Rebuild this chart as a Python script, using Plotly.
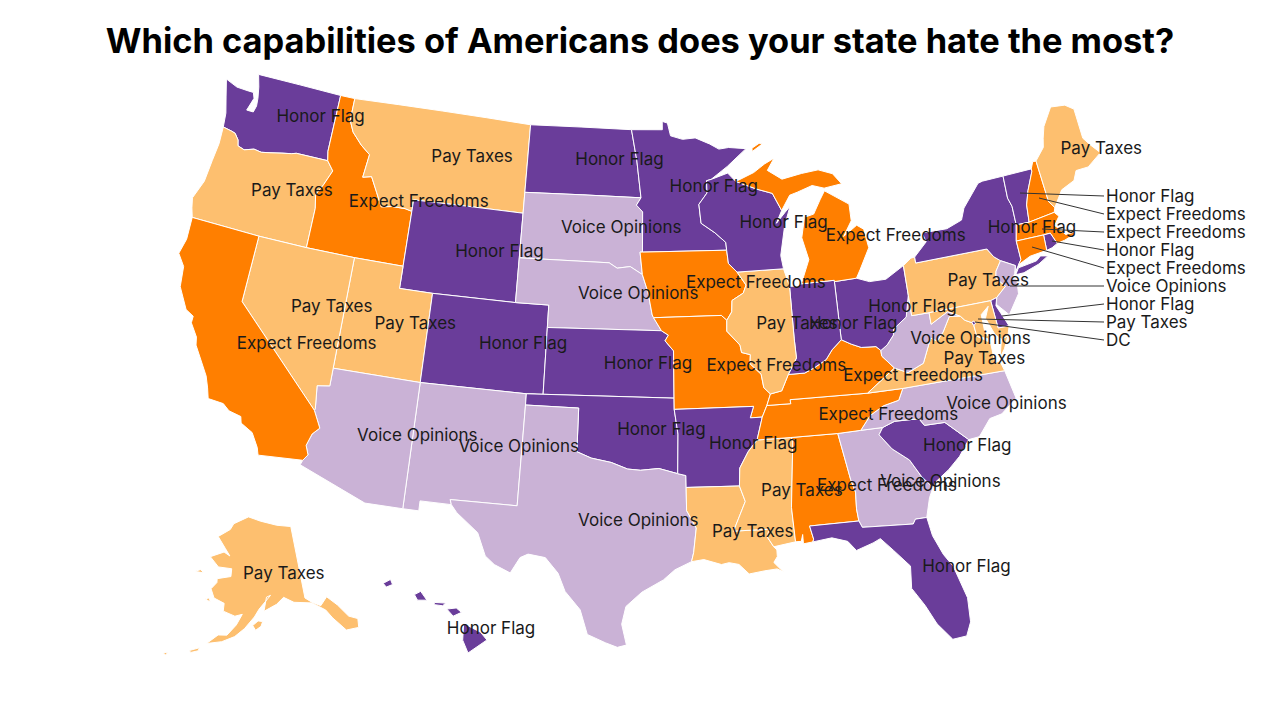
import plotly.graph_objects as go

# state outlines as lon,lat rings
WA = [[(-124.73,48.38),(-123.9,48.17),(-123.1,48.15),(-122.75,48.15),(-122.6,47.9),(-122.85,47.3),(-122.4,47.3),(-122.3,47.6),(-122.35,47.95),(-122.5,48.45),(-122.75,49.0),(-117.03,49.0),(-117.04,46.42),(-116.92,46.0),(-119.0,46.0),(-119.3,45.93),(-119.9,45.85),(-120.65,45.73),(-121.2,45.65),(-121.7,45.7),(-122.3,45.55),(-122.75,45.65),(-122.85,45.9),(-123.15,46.15),(-123.4,46.2),(-124.0,46.27),(-124.1,46.9),(-124.4,47.6)]]
OR = [[(-124.0,46.27),(-123.4,46.2),(-123.15,46.15),(-122.85,45.9),(-122.75,45.65),(-122.3,45.55),(-121.7,45.7),(-121.2,45.65),(-120.65,45.73),(-119.9,45.85),(-119.3,45.93),(-119.0,46.0),(-116.92,46.0),(-116.46,45.6),(-116.85,44.9),(-117.2,44.4),(-117.03,43.8),(-117.03,42.0),(-120.0,42.0),(-124.21,42.0),(-124.4,42.4),(-124.55,42.84),(-124.15,43.7),(-124.05,44.7),(-123.95,45.5)]]
ID = [[(-117.03,49.0),(-116.05,49.0),(-116.05,48.0),(-115.7,47.5),(-115.0,47.0),(-114.35,46.65),(-114.5,45.6),(-113.95,45.7),(-113.45,45.05),(-113.0,44.45),(-112.3,44.55),(-111.5,44.55),(-111.05,44.48),(-111.05,42.0),(-114.05,42.0),(-117.03,42.0),(-117.03,43.8),(-117.2,44.4),(-116.85,44.9),(-116.46,45.6),(-116.92,46.0),(-117.04,46.42)]]
MT = [[(-116.05,49.0),(-104.05,49.0),(-104.05,45.94),(-104.05,45.0),(-111.05,45.0),(-111.05,44.48),(-111.5,44.55),(-112.3,44.55),(-113.0,44.45),(-113.45,45.05),(-113.95,45.7),(-114.5,45.6),(-114.35,46.65),(-115.0,47.0),(-115.7,47.5),(-116.05,48.0)]]
WY = [[(-111.05,45.0),(-104.05,45.0),(-104.05,43.0),(-104.05,41.0),(-109.05,41.0),(-111.05,41.0),(-111.05,42.0),(-111.05,44.48)]]
UT = [[(-114.05,42.0),(-111.05,42.0),(-111.05,41.0),(-109.05,41.0),(-109.05,37.0),(-114.05,37.0),(-114.05,36.2)]]
CO = [[(-109.05,41.0),(-104.05,41.0),(-102.05,41.0),(-102.05,40.0),(-102.05,37.0),(-103.0,37.0),(-109.05,37.0)]]
NM = [[(-109.05,37.0),(-103.0,37.0),(-103.0,36.5),(-103.05,32.0),(-106.62,32.0),(-106.53,31.78),(-108.2,31.78),(-108.2,31.33),(-109.05,31.33)]]
AZ = [[(-114.05,37.0),(-109.05,37.0),(-109.05,31.33),(-111.07,31.33),(-114.81,32.5),(-114.72,32.72),(-114.5,33.0),(-114.7,33.4),(-114.5,33.95),(-114.15,34.27),(-114.63,35.0),(-114.6,35.1),(-114.75,36.1),(-114.05,36.2)]]
NV = [[(-120.0,42.0),(-117.03,42.0),(-114.05,42.0),(-114.05,37.0),(-114.05,36.2),(-114.75,36.1),(-114.6,35.1),(-114.63,35.0),(-120.0,39.0)]]
CA = [[(-124.21,42.0),(-120.0,42.0),(-120.0,39.0),(-114.63,35.0),(-114.15,34.27),(-114.5,33.95),(-114.7,33.4),(-114.5,33.0),(-114.72,32.72),(-117.12,32.53),(-117.25,32.85),(-117.7,33.45),(-118.4,33.75),(-118.5,34.03),(-119.2,34.15),(-119.6,34.4),(-120.47,34.45),(-120.65,34.9),(-120.9,35.4),(-121.9,36.6),(-122.0,36.95),(-122.5,37.5),(-122.5,37.8),(-123.0,38.0),(-123.7,38.9),(-123.85,39.8),(-124.35,40.3),(-124.15,41.0)]]
ND = [[(-104.05,49.0),(-97.23,49.0),(-96.85,47.6),(-96.56,45.93),(-104.05,45.94)]]
SD = [[(-104.05,45.94),(-96.56,45.93),(-96.85,45.6),(-96.45,45.3),(-96.45,43.5),(-96.6,43.5),(-96.45,42.5),(-97.2,42.85),(-98.0,42.77),(-98.5,43.0),(-104.05,43.0)]]
NE = [[(-104.05,43.0),(-98.5,43.0),(-98.0,42.77),(-97.2,42.85),(-96.45,42.5),(-96.1,41.7),(-95.85,40.7),(-95.77,40.58),(-95.31,40.0),(-102.05,40.0),(-102.05,41.0),(-104.05,41.0)]]
KS = [[(-102.05,40.0),(-95.31,40.0),(-94.9,39.8),(-95.1,39.55),(-94.61,39.1),(-94.62,37.0),(-103.0,37.0),(-102.05,37.0)]]
OK = [[(-103.0,37.0),(-94.62,37.0),(-94.62,36.5),(-94.43,35.4),(-94.48,33.64),(-95.5,33.88),(-96.5,33.8),(-97.2,33.85),(-98.1,34.13),(-99.2,34.3),(-100.0,34.56),(-100.0,36.5),(-103.0,36.5)]]
TX = [[(-103.0,36.5),(-100.0,36.5),(-100.0,34.56),(-99.2,34.3),(-98.1,34.13),(-97.2,33.85),(-96.5,33.8),(-95.5,33.88),(-94.48,33.64),(-94.04,33.55),(-94.04,33.02),(-94.04,31.99),(-93.55,31.2),(-93.72,30.1),(-93.84,29.7),(-94.7,29.35),(-95.3,28.9),(-96.4,28.35),(-97.2,27.7),(-97.4,26.9),(-97.15,25.96),(-97.6,25.85),(-98.2,26.05),(-99.1,26.4),(-99.5,27.5),(-100.3,28.3),(-100.7,29.1),(-101.4,29.77),(-102.3,29.88),(-102.7,29.7),(-103.15,28.98),(-104.0,29.3),(-104.5,29.65),(-105.0,30.65),(-106.2,31.45),(-106.53,31.78),(-106.62,32.0),(-103.05,32.0)]]
MN = [[(-97.23,49.0),(-95.15,49.0),(-95.15,49.38),(-94.8,49.3),(-94.6,48.72),(-93.8,48.55),(-92.95,48.6),(-92.0,48.3),(-91.4,48.05),(-90.75,48.1),(-89.6,48.0),(-90.9,47.25),(-92.0,46.7),(-92.3,46.65),(-92.3,46.1),(-92.85,45.6),(-92.75,44.75),(-91.9,44.3),(-91.25,43.85),(-91.22,43.5),(-96.45,43.5),(-96.45,45.3),(-96.85,45.6),(-96.56,45.93),(-96.85,47.6)]]
IA = [[(-96.6,43.5),(-96.45,43.5),(-91.22,43.5),(-91.15,42.9),(-90.65,42.5),(-90.15,41.9),(-90.35,41.55),(-91.05,41.25),(-91.1,40.75),(-91.42,40.38),(-91.73,40.61),(-95.77,40.58),(-95.85,40.7),(-96.1,41.7),(-96.45,42.5)]]
MO = [[(-95.77,40.58),(-91.73,40.61),(-91.42,40.38),(-91.45,39.9),(-90.72,39.25),(-90.65,38.92),(-90.15,38.8),(-90.2,38.4),(-89.6,37.9),(-89.5,37.3),(-89.15,37.0),(-89.4,36.5),(-89.7,36.0),(-90.37,36.0),(-90.15,36.5),(-94.62,36.5),(-94.62,37.0),(-94.61,39.1),(-95.1,39.55),(-94.9,39.8),(-95.31,40.0)]]
AR = [[(-94.62,36.5),(-90.15,36.5),(-90.37,36.0),(-89.7,36.0),(-90.07,35.0),(-90.6,34.5),(-91.1,33.8),(-91.17,33.0),(-94.04,33.02),(-94.04,33.55),(-94.48,33.64),(-94.43,35.4)]]
LA = [[(-94.04,33.02),(-91.17,33.0),(-90.9,32.3),(-91.6,31.0),(-89.73,31.0),(-89.85,30.65),(-89.55,30.2),(-89.4,30.05),(-89.4,29.75),(-89.6,29.5),(-89.15,29.05),(-89.45,29.2),(-90.1,29.15),(-90.9,29.05),(-91.4,29.5),(-91.9,29.6),(-92.3,29.53),(-93.2,29.78),(-93.84,29.7),(-93.72,30.1),(-93.55,31.2),(-94.04,31.99)]]
MS = [[(-90.07,35.0),(-88.2,35.0),(-88.1,34.9),(-88.47,31.9),(-88.4,30.35),(-89.55,30.2),(-89.85,30.65),(-89.73,31.0),(-91.6,31.0),(-90.9,32.3),(-91.17,33.0),(-91.1,33.8),(-90.6,34.5)]]
AL = [[(-88.2,35.0),(-85.6,34.98),(-85.18,32.87),(-85.0,32.3),(-85.05,31.55),(-85.0,31.0),(-87.6,31.0),(-87.45,30.4),(-87.5,30.28),(-88.0,30.23),(-88.0,30.65),(-88.1,30.35),(-88.4,30.35),(-88.47,31.9),(-88.1,34.9)]]
GA = [[(-85.6,34.98),(-84.32,35.0),(-83.1,35.0),(-83.35,34.7),(-82.75,34.0),(-81.9,33.4),(-81.4,32.6),(-80.88,32.03),(-81.15,31.6),(-81.45,30.75),(-82.05,30.75),(-82.2,30.55),(-84.86,30.7),(-85.0,31.0),(-85.05,31.55),(-85.0,32.3),(-85.18,32.87)]]
FL = [[(-87.6,31.0),(-85.0,31.0),(-84.86,30.7),(-82.2,30.55),(-82.05,30.75),(-81.45,30.75),(-81.3,29.9),(-80.9,29.0),(-80.5,28.4),(-80.05,26.9),(-80.1,25.8),(-80.4,25.2),(-81.1,25.15),(-81.75,25.95),(-82.2,26.85),(-82.75,27.7),(-82.65,28.7),(-83.4,29.5),(-84.0,30.1),(-84.4,29.95),(-85.3,29.7),(-85.7,30.15),(-86.5,30.38),(-87.5,30.28),(-87.45,30.4)]]
SC = [[(-83.1,35.0),(-82.4,35.2),(-81.05,35.15),(-80.8,34.82),(-79.67,34.8),(-78.55,33.86),(-79.2,33.2),(-79.9,32.7),(-80.7,32.25),(-80.88,32.03),(-81.4,32.6),(-81.9,33.4),(-82.75,34.0),(-83.35,34.7)]]
NC = [[(-84.32,35.0),(-83.1,35.0),(-82.4,35.2),(-81.05,35.15),(-80.8,34.82),(-79.67,34.8),(-78.55,33.86),(-77.95,33.9),(-77.2,34.6),(-76.5,34.7),(-75.55,35.25),(-75.85,36.55),(-81.68,36.59),(-82.0,36.1),(-82.9,35.95),(-83.7,35.6)]]
TN = [[(-90.07,35.0),(-89.7,36.0),(-89.4,36.5),(-88.05,36.5),(-88.07,36.68),(-83.68,36.6),(-81.68,36.59),(-82.0,36.1),(-82.9,35.95),(-83.7,35.6),(-84.32,35.0),(-85.6,34.98),(-88.2,35.0)]]
KY = [[(-89.4,36.5),(-89.15,37.0),(-88.5,37.1),(-88.05,37.8),(-87.1,37.8),(-86.5,38.0),(-85.8,38.3),(-85.4,38.7),(-84.8,39.1),(-84.25,38.85),(-83.7,38.65),(-82.85,38.6),(-82.6,38.4),(-82.6,38.15),(-81.97,37.54),(-83.68,36.6),(-88.07,36.68),(-88.05,36.5)]]
VA = [[(-83.68,36.6),(-81.97,37.54),(-81.25,37.25),(-80.3,37.55),(-79.65,38.6),(-79.3,38.42),(-78.87,38.77),(-78.35,39.4),(-77.72,39.32),(-77.5,39.1),(-77.12,38.93),(-77.05,38.8),(-77.0,38.3),(-76.3,37.9),(-76.3,37.0),(-76.0,37.0),(-75.85,36.55),(-81.68,36.59)],
      [(-75.95,37.15),(-75.65,37.95),(-75.25,38.03),(-75.6,37.5)]]
WV = [[(-82.6,38.4),(-82.2,38.6),(-81.75,39.0),(-81.7,39.25),(-80.85,39.7),(-80.52,40.64),(-80.52,39.72),(-79.48,39.72),(-79.48,39.2),(-78.4,39.62),(-77.72,39.32),(-78.35,39.4),(-78.87,38.77),(-79.3,38.42),(-79.65,38.6),(-80.3,37.55),(-81.25,37.25),(-81.97,37.54),(-82.6,38.15)]]
OH = [[(-84.8,41.7),(-83.45,41.73),(-82.7,41.5),(-81.7,41.5),(-80.52,41.98),(-80.52,40.64),(-80.85,39.7),(-81.7,39.25),(-81.75,39.0),(-82.2,38.6),(-82.6,38.4),(-82.85,38.6),(-83.7,38.65),(-84.25,38.85),(-84.8,39.1)]]
IN = [[(-87.53,41.7),(-87.0,41.67),(-86.8,41.76),(-84.8,41.76),(-84.8,41.7),(-84.8,39.1),(-85.4,38.7),(-85.8,38.3),(-86.5,38.0),(-87.1,37.8),(-88.05,37.8),(-87.5,38.5),(-87.53,39.35)]]
IL = [[(-90.65,42.5),(-87.8,42.5),(-87.6,41.9),(-87.53,41.7),(-87.53,39.35),(-87.5,38.5),(-88.05,37.8),(-88.5,37.1),(-89.15,37.0),(-89.5,37.3),(-89.6,37.9),(-90.2,38.4),(-90.15,38.8),(-90.65,38.92),(-90.72,39.25),(-91.45,39.9),(-91.42,40.38),(-91.1,40.75),(-91.05,41.25),(-90.35,41.55),(-90.15,41.9)]]
WI = [[(-92.3,46.65),(-92.0,46.7),(-90.9,46.95),(-90.4,46.55),(-89.1,46.15),(-88.1,45.9),(-87.6,45.1),(-88.0,44.55),(-87.4,45.0),(-87.05,45.25),(-87.5,44.4),(-87.9,43.1),(-87.8,42.5),(-90.65,42.5),(-91.15,42.9),(-91.22,43.5),(-91.25,43.85),(-91.9,44.3),(-92.75,44.75),(-92.85,45.6),(-92.3,46.1)]]
MI = [[(-86.8,41.76),(-84.8,41.76),(-84.8,41.7),(-83.45,41.73),(-83.15,42.1),(-82.45,43.0),(-82.6,43.85),(-83.0,44.07),(-83.9,43.65),(-83.3,44.3),(-83.3,45.05),(-84.75,45.78),(-85.1,45.4),(-85.6,44.8),(-86.2,44.7),(-86.5,43.8),(-86.2,42.8)],
      [(-90.4,46.55),(-89.2,46.9),(-88.45,47.25),(-87.8,47.47),(-88.3,46.95),(-87.4,46.5),(-86.1,46.67),(-85.0,46.75),(-84.1,46.5),(-83.6,46.0),(-84.75,45.9),(-85.5,46.08),(-86.5,45.85),(-87.0,45.75),(-87.6,45.1),(-88.1,45.9),(-89.1,46.15)],
      [(-89.2,47.85),(-88.5,48.15),(-88.7,48.2),(-89.2,48.0)]]
PA = [[(-80.52,41.98),(-80.0,42.25),(-79.76,42.27),(-79.76,42.0),(-75.35,42.0),(-75.05,41.6),(-74.7,41.36),(-75.1,40.95),(-75.2,40.65),(-74.75,40.2),(-75.4,39.8),(-75.79,39.72),(-79.48,39.72),(-80.52,39.72),(-80.52,40.64)]]
NY = [[(-79.76,42.27),(-78.9,42.85),(-79.05,43.27),(-77.5,43.25),(-76.5,43.5),(-76.2,44.0),(-75.0,44.95),(-74.7,45.0),(-73.35,45.01),(-73.4,44.0),(-73.25,43.6),(-73.27,42.75),(-73.5,42.05),(-73.49,41.2),(-73.7,41.0),(-74.0,40.7),(-73.9,41.0),(-74.7,41.36),(-75.05,41.6),(-75.35,42.0),(-79.76,42.0)],
      [(-74.0,40.6),(-73.75,40.87),(-72.6,40.98),(-72.3,41.15),(-71.87,41.07),(-72.5,40.82),(-73.5,40.6)]]
VT = [[(-73.35,45.01),(-71.5,45.01),(-71.5,44.9),(-72.05,44.1),(-72.35,43.5),(-72.46,42.73),(-73.27,42.75),(-73.25,43.6),(-73.4,44.0)]]
NH = [[(-71.5,45.01),(-71.3,45.3),(-71.08,45.3),(-70.98,43.4),(-70.7,43.07),(-70.82,42.87),(-72.46,42.73),(-72.35,43.5),(-72.05,44.1),(-71.5,44.9)]]
ME = [[(-71.08,45.3),(-70.4,45.8),(-70.25,46.2),(-70.0,46.7),(-69.23,47.46),(-68.3,47.36),(-67.8,47.07),(-67.8,45.7),(-67.45,45.3),(-67.0,44.85),(-68.0,44.4),(-68.8,44.4),(-69.1,44.0),(-70.0,43.75),(-70.7,43.07),(-70.98,43.4)]]
MA = [[(-73.5,42.05),(-73.27,42.75),(-72.46,42.73),(-70.82,42.87),(-70.6,42.65),(-71.0,42.3),(-70.65,41.95),(-70.5,41.78),(-70.05,41.78),(-70.2,42.07),(-69.95,41.7),(-70.65,41.55),(-71.13,41.5),(-71.38,42.02),(-71.8,42.02)]]
RI = [[(-71.8,42.02),(-71.38,42.02),(-71.13,41.5),(-71.5,41.37),(-71.85,41.32)]]
CT = [[(-73.5,42.05),(-71.8,42.02),(-71.85,41.32),(-72.9,41.25),(-73.7,41.0),(-73.49,41.2)]]
NJ = [[(-74.7,41.36),(-73.9,41.0),(-74.05,40.65),(-74.25,40.47),(-74.0,40.4),(-74.1,39.75),(-74.9,38.93),(-75.5,39.5),(-75.4,39.8),(-74.75,40.2),(-75.2,40.65),(-75.1,40.95)]]
DE = [[(-75.79,39.72),(-75.4,39.8),(-75.55,39.45),(-75.05,38.45),(-75.7,38.46)]]
MD = [[(-79.48,39.72),(-75.79,39.72),(-75.7,38.46),(-75.05,38.45),(-75.25,38.03),(-75.65,37.95),(-75.95,38.2),(-76.3,39.0),(-76.0,39.5),(-76.5,39.2),(-76.5,38.5),(-76.3,38.05),(-77.0,38.3),(-77.05,38.8),(-77.12,38.93),(-77.5,39.1),(-77.72,39.32),(-78.4,39.62),(-79.48,39.2)]]
DC = [[(-77.12,38.93),(-77.04,39.0),(-76.91,38.89),(-77.04,38.79)]]
AK = [[(-141.0,69.65),(-141.0,60.3),(-139.5,59.6),(-137.5,58.9),(-135.5,59.8),(-133.5,58.4),(-131.8,56.6),(-130.0,55.9),(-130.5,54.8),(-133.3,55.0),(-135.5,57.0),(-136.6,58.2),(-139.5,59.5),(-144.0,60.0),(-146.5,60.8),(-148.5,60.0),(-151.8,59.2),(-151.0,61.0),(-149.9,61.2),(-153.0,59.5),(-154.2,58.5),(-156.5,57.0),(-158.7,55.9),(-161.5,55.1),(-164.8,54.6),(-162.5,55.9),(-160.5,56.0),(-158.5,57.4),(-157.2,58.8),(-159.0,58.5),(-162.0,59.0),(-162.0,60.0),(-164.8,60.5),(-166.0,61.6),(-164.7,62.5),(-164.8,63.0),(-161.0,63.5),(-161.0,64.5),(-165.0,64.5),(-168.0,65.6),(-164.0,66.5),(-162.0,66.1),(-163.8,67.0),(-166.8,68.35),(-163.0,69.5),(-162.0,70.3),(-156.6,71.35),(-152.0,70.8),(-146.0,70.1)],
      [(-154.6,57.4),(-153.3,58.0),(-152.2,57.9),(-152.6,57.3),(-153.9,56.8)],
      [(-168.2,53.3),(-166.2,53.9),(-166.3,53.5),(-167.8,53.1)],
      [(-172.5,52.4),(-173.5,52.2),(-172.8,52.0)],
      [(-166.0,60.4),(-167.0,60.2),(-165.6,59.9)],
      [(-170.0,63.7),(-168.8,63.4),(-171.5,63.3)]]
HI = [[(-155.9,20.25),(-155.1,19.85),(-154.8,19.5),(-155.7,18.92),(-155.95,19.5)],
      [(-156.7,20.9),(-156.25,20.95),(-156.0,20.75),(-156.4,20.58)],
      [(-157.3,21.2),(-156.75,21.17),(-156.9,21.05),(-157.3,21.1)],
      [(-158.25,21.55),(-157.95,21.7),(-157.65,21.3),(-158.1,21.3)],
      [(-159.75,22.05),(-159.4,22.23),(-159.3,22.0),(-159.6,21.88)]]

honor_flag = ['WA','ND','MN','WI','WY','CO','KS','OK','AR','IN','OH','NY','VT','SC','FL','HI','DE','RI','DC']
expect_freedoms = ['ID','CA','IA','MO','MI','KY','TN','AL','NH','MA','CT']
pay_taxes = ['OR','MT','NV','UT','IL','PA','VA','MS','LA','ME','AK','MD']
voice_opinions = ['SD','NE','AZ','NM','TX','GA','NC','WV','NJ']
groups = [honor_flag, expect_freedoms, pay_taxes, voice_opinions]
colors = ['#6a3d9a','#ff7f00','#fdbf6f','#cab2d6']
names = ['Honor Flag','Expect Freedoms','Pay Taxes','Voice Opinions']

label_states = ['WA','OR','CA','NV','ID','MT','WY','UT','AZ','CO','NM','ND','SD','NE','KS','OK','TX','MN','IA','MO','AR','LA','WI','IL','MS','MI','IN','KY','TN','AL','OH','WV','VA','NC','SC','GA','FL','ME','NY','PA','AK','HI']
label_lon = [-118.0,-118.7,-115.8,-114.8,-110.7,-107.7,-105.3,-109.8,-108.8,-103.4,-103.2,-98.0,-97.8,-96.7,-96.1,-95.35,-96.6,-91.85,-89.55,-88.7,-90.3,-90.6,-87.55,-87.3,-87.85,-80.7,-84.0,-81.0,-82.7,-83.3,-80.4,-77.4,-76.85,-76.15,-78.7,-80.45,-79.85,-66.9,-72.4,-75.7,-145.7,-156.7]
label_lat = [47.8,44.3,37.8,39.6,44.9,47.25,43.15,39.5,34.6,39.15,34.6,47.6,44.55,41.6,38.5,35.55,31.5,46.3,41.95,38.2,34.8,30.9,44.5,39.95,32.55,43.3,39.7,37.05,35.5,32.35,40.05,38.2,37.2,35.05,33.55,32.2,28.25,44.95,42.4,40.55,63.7,19.95]
# Hawaii's label hangs off to the right of the islands, past the inset's clip edge
label_pos = ['middle center']*41 + ['middle right']

side_names = ['Honor Flag','Expect Freedoms','Expect Freedoms','Honor Flag','Expect Freedoms','Voice Opinions','Honor Flag','Pay Taxes','DC']
side_y = [196,214,232,250,268,286,304,322,340]
leader_x = [1020,1039,1042,1052,1032,1010,1002,978,975]
leader_y = [193,198,229,241,247,286,316,319,322]

outlines = dict(WA=WA,OR=OR,ID=ID,MT=MT,WY=WY,UT=UT,CO=CO,NM=NM,AZ=AZ,NV=NV,CA=CA,ND=ND,SD=SD,NE=NE,KS=KS,OK=OK,TX=TX,MN=MN,IA=IA,MO=MO,AR=AR,LA=LA,MS=MS,AL=AL,GA=GA,FL=FL,SC=SC,NC=NC,TN=TN,KY=KY,VA=VA,WV=WV,OH=OH,IN=IN,IL=IL,WI=WI,MI=MI,PA=PA,NY=NY,VT=VT,NH=NH,ME=ME,MA=MA,RI=RI,CT=CT,NJ=NJ,DE=DE,MD=MD,DC=DC,AK=AK,HI=HI)


def clockwise(ring):
    # d3 wants exterior rings clockwise, otherwise it fills the whole globe
    ring = list(ring) + [ring[0]]
    area = sum(a[0]*b[1] - b[0]*a[1] for a, b in zip(ring, ring[1:]))
    return ring if area < 0 else ring[::-1]


def group_color(code):
    for g, c in zip(groups, colors):
        if code in g:
            return c


def group_name(code):
    for g, n in zip(groups, names):
        if code in g:
            return n


fig = go.Figure()
for code, rings in outlines.items():
    for ring in rings:
        r = clockwise(ring)
        fig.add_trace(go.Scattergeo(lon=[p[0] for p in r], lat=[p[1] for p in r], mode='lines', fill='toself',
                                    fillcolor=group_color(code), line=dict(color='white', width=1),
                                    name=code, hoverinfo='name', showlegend=False))
fig.add_trace(go.Scattergeo(lon=label_lon, lat=label_lat, mode='text', text=[group_name(s) for s in label_states],
                            textposition=label_pos,
                            textfont=dict(family='Inter', size=17, color='#1a1a1a'), showlegend=False))

W, H = 1264, 704  # page body has an 8px margin
for name, ty, lx, ly in zip(side_names, side_y, leader_x, leader_y):
    fig.add_annotation(x=(lx-8)/W, y=1-(ly-8)/H, xref='paper', yref='paper', text=name, showarrow=True,
                       axref='pixel', ayref='pixel', ax=1104-lx, ay=ty-ly, xanchor='left', yanchor='middle',
                       arrowhead=0, arrowwidth=1, arrowcolor='#333333', standoff=0,
                       font=dict(family='Inter', size=17, color='#1a1a1a'))

fig.update_layout(width=W, height=H, margin=dict(l=0,r=0,t=0,b=0), paper_bgcolor='white', showlegend=False,
                  title=dict(text='<b>Which capabilities of Americans does your state hate the most?</b>',
                             x=0.5, y=0.953, xanchor='center', yanchor='middle',
                             font=dict(family='Inter', size=34.4, color='black')),
                  geo=dict(scope='usa', projection=dict(type='albers usa'), showland=False, showlakes=False, showsubunits=False,
                           showcoastlines=False, showcountries=False, showframe=False, bgcolor='white',
                           domain=dict(x=[0.0395,0.9595], y=[0,1])))
fig.write_html("out.html")
